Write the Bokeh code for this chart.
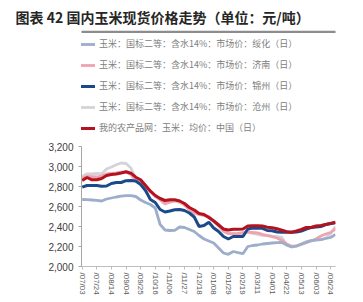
import pandas as pd
from bokeh.plotting import figure
from bokeh.models import (Range1d, FixedTicker, NumeralTickFormatter, DatetimeTickFormatter,
                          Legend, LegendItem, PolyAnnotation, ColumnDataSource)
from bokeh.embed import file_html
from bokeh.resources import INLINE

title_text = "图表 42 国内玉米现货价格走势（单位：元/吨）"

dates = pd.date_range("2023-07-03", periods=53, freq="7D")

suihua = [2670, 2668, 2665, 2662, 2655, 2675, 2685, 2695, 2703, 2708, 2708, 2700, 2665, 2640,
          2620, 2585, 2420, 2365, 2360, 2362, 2395, 2390, 2370, 2350, 2310, 2275, 2255, 2235,
          2185, 2135, 2122, 2150, 2138, 2128, 2200, 2210, 2215, 2225, 2230, 2235, 2238, 2240,
          2215, 2195, 2205, 2225, 2243, 2258, 2267, 2268, 2280, 2290, 2320]
jinan = [2887, 2900, 2898, 2895, 2905, 2925, 2930, 2935, 2943, 2943, 2920, 2850, 2855, 2810,
         2750, 2700, 2670, 2630, 2643, 2658, 2655, 2615, 2570, 2537, 2522, 2512, 2500, 2460,
         2420, 2355, 2330, 2328, 2330, 2338, 2343, 2340, 2337, 2322, 2310, 2298, 2285, 2260,
         2225, 2203, 2205, 2220, 2238, 2255, 2275, 2305, 2325, 2340, 2377]
jinzhou = [2793, 2810, 2810, 2810, 2803, 2805, 2830, 2840, 2840, 2858, 2860, 2855, 2820, 2760,
           2670, 2640, 2570, 2545, 2555, 2568, 2570, 2560, 2535, 2495, 2400, 2410, 2443, 2385,
           2350, 2300, 2275, 2300, 2300, 2300, 2375, 2385, 2382, 2382, 2360, 2358, 2345, 2343,
           2343, 2343, 2345, 2355, 2375, 2390, 2395, 2400, 2420, 2430, 2437]
cangzhou = [2900, 2927, 2925, 2930, 2925, 2975, 2995, 3017, 3035, 3030, 2985, 2880, 2862, 2800,
            2760, 2710, 2665, 2622, 2650, 2655, 2640, 2615, 2570, 2530, 2520, 2510, 2493, 2450,
            2400, 2350, 2328, 2327, 2327, 2330, 2350, 2330, 2320, 2310, 2310, 2303, 2298, 2290,
            2212, 2195, 2205, 2225, 2250, 2260, 2263, 2268, 2285, 2330, 2400]
china = [2860, 2890, 2867, 2867, 2880, 2910, 2920, 2925, 2935, 2948, 2933, 2893, 2867, 2810,
         2753, 2710, 2680, 2660, 2667, 2667, 2655, 2630, 2590, 2565, 2530, 2520, 2490, 2455,
         2415, 2375, 2365, 2373, 2373, 2375, 2405, 2407, 2407, 2405, 2393, 2387, 2377, 2363,
         2347, 2343, 2355, 2370, 2390, 2390, 2405, 2410, 2420, 2430, 2443]

series_cols = ["suihua", "jinan", "jinzhou", "cangzhou", "china"]
series_names = ["玉米：国标二等：含水14%：市场价：绥化（日）",
                "玉米：国标二等：含水14%：市场价：济南（日）",
                "玉米：国标二等：含水14%：市场价：锦州（日）",
                "玉米：国标二等：含水14%：市场价：沧州（日）",
                "我的农产品网：玉米：均价：中国（日）"]
series_colors = {"suihua": "#9DAECB", "jinan": "#EFA3AE", "jinzhou": "#1B4A8A",
                 "cangzhou": "#D3D3D8", "china": "#B3121E"}
series_widths = {"suihua": 2.8, "jinan": 2.8, "jinzhou": 3, "cangzhou": 2.8, "china": 3}
draw_order = ["cangzhou", "jinan", "suihua", "jinzhou", "china"]

tick_dates = ["2023-07-03", "2023-07-24", "2023-08-14", "2023-09-04", "2023-09-25",
              "2023-10-16", "2023-11-06", "2023-11-27", "2023-12-18", "2024-01-08",
              "2024-01-29", "2024-02-19", "2024-03-11", "2024-04-01", "2024-04-22",
              "2024-05-13", "2024-06-03", "2024-06-24"]
y_ticks = [2000, 2200, 2400, 2600, 2800, 3000, 3200]

src = ColumnDataSource(dict(date=dates, suihua=suihua, jinan=jinan, jinzhou=jinzhou,
                            cangzhou=cangzhou, china=china))

p = figure(width=363, height=302, x_axis_type="datetime", output_backend="svg",
           toolbar_location=None,
           x_range=Range1d(pd.Timestamp("2023-07-02"), pd.Timestamp("2024-07-01")),
           y_range=Range1d(2000, 4360),
           min_border_left=81, min_border_right=28, min_border_top=30, min_border_bottom=36)
p.grid.visible = False
p.outline_line_color = None
p.background_fill_color = "white"

p.title.text = title_text
p.title.align = "left"
p.title.offset = -66
p.title.text_font = "Noto Sans CJK SC"
p.title.text_font_size = "14px"
p.title.text_font_style = "bold"
p.title.text_color = "#262626"
p.title.standoff = 8

renderers = {}
for c in draw_order:
    renderers[c] = p.line("date", c, source=src, line_color=series_colors[c],
                          line_width=series_widths[c])

legend = Legend(items=[LegendItem(label=n, renderers=[renderers[c]])
                       for n, c in zip(series_names, series_cols)],
                location=(-13, 132), orientation="vertical",
                glyph_width=27, glyph_height=12, label_height=12, spacing=8,
                padding=0, margin=0, label_standoff=4, border_line_color=None,
                background_fill_alpha=0, label_text_font_size="9px",
                label_text_color="#808080", label_text_font="Noto Sans CJK SC")
p.add_layout(legend)

# grey rule under the title (screen pixels relative to the plot frame)
p.add_layout(PolyAnnotation(xs=[-74, 282, 282, -74], ys=[236, 236, 233.5, 233.5],
                            xs_units="screen", ys_units="screen",
                            fill_color="#8C8C8C", fill_alpha=1, line_color=None))

yax = p.yaxis[0]
yax.bounds = (2000, 3200)
yax.ticker = FixedTicker(ticks=y_ticks)
yax.formatter = NumeralTickFormatter(format="0,0")
yax.major_label_text_font = "Liberation Sans"
yax.major_label_text_font_size = "10px"
yax.major_label_text_color = "#404040"
yax.axis_line_color = "#A6A6A6"
yax.major_tick_line_color = "#A6A6A6"
yax.major_tick_in = 0
yax.major_tick_out = 3
yax.minor_tick_out = 0
yax.minor_tick_in = 0
yax.major_label_standoff = 5

xax = p.xaxis[0]
xax.ticker = FixedTicker(ticks=[pd.Timestamp(d).value / 1e6 for d in tick_dates])
fmt = "/%m/%d"
xax.formatter = DatetimeTickFormatter(microseconds=fmt, milliseconds=fmt, seconds=fmt,
                                      minsec=fmt, minutes=fmt, hourmin=fmt, hours=fmt,
                                      days=fmt, months=fmt, years=fmt)
xax.major_label_orientation = "vertical"
xax.major_label_text_font = "Liberation Sans"
xax.major_label_text_font_size = "8px"
xax.major_label_text_color = "#595959"
xax.axis_line_color = "#BFBFBF"
xax.major_tick_line_color = "#BFBFBF"
xax.major_tick_in = 0
xax.major_tick_out = 3
xax.minor_tick_out = 0
xax.minor_tick_in = 0
xax.major_label_standoff = 3

open("out.html", "w").write(file_html(p, INLINE))
